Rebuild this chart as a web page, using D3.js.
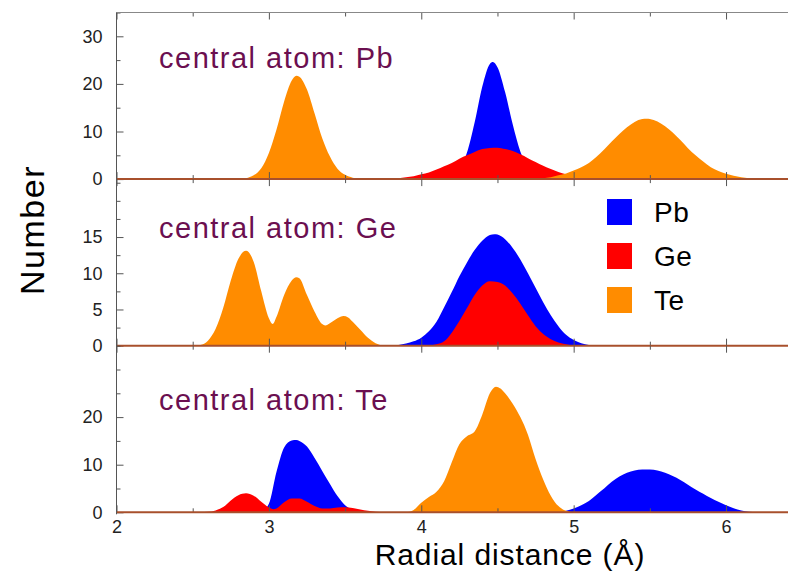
<!DOCTYPE html>
<html>
<head>
<meta charset="utf-8">
<script src="https://cdn.jsdelivr.net/npm/d3@7/dist/d3.min.js"></script>
<style>
    body { margin: 0; background: #fff; }
    svg { display: block; font-family: "Liberation Sans", Arial, sans-serif; }
    .axis .domain { display: none; }
    .axis line { stroke: #555; }
    .axis text { fill: #222; font-size: 18px; }
</style>
</head>
<body>
<script>
// Radial distribution of neighbours, [r (Å), number].
var pbCentralPb = [[4.10,0],[4.15,0.1],[4.20,0.6],[4.25,2.0],[4.30,5.6],[4.35,11.9],[4.40,19.4],[4.45,24.2],[4.47,24.6],[4.50,23.5],[4.55,18.3],[4.60,11.5],[4.65,5.8],[4.70,2.4],[4.75,0.8],[4.80,0.2],[4.85,0]];
var pbCentralGe = [[3.80,0],[3.85,0.2],[3.90,0.4],[3.95,0.6],[4.00,1.0],[4.05,1.4],[4.10,2.0],[4.15,2.7],[4.20,3.4],[4.25,4.3],[4.30,5.0],[4.35,5.7],[4.40,6.3],[4.45,6.55],[4.50,6.6],[4.55,6.3],[4.60,5.9],[4.65,5.2],[4.70,4.4],[4.75,3.6],[4.80,2.8],[4.85,2.1],[4.90,1.5],[4.95,1.0],[5.00,0.7],[5.05,0.4],[5.10,0.25],[5.15,0.1],[5.20,0]];
var pbCentralTe = [[2.80,0],[2.85,0.2],[2.90,0.8],[2.95,2.3],[3.00,5.5],[3.05,10.4],[3.10,16.3],[3.15,20.7],[3.18,21.7],[3.20,21.5],[3.25,18.8],[3.30,13.8],[3.35,8.6],[3.40,4.8],[3.45,2.2],[3.50,0.9],[3.55,0.3],[3.60,0.05],[3.65,0],
    [4.75,0],[4.80,0.2],[4.85,0.4],[4.90,0.8],[4.95,1.2],[5.00,1.8],[5.05,2.5],[5.10,3.4],[5.15,4.7],[5.20,6.2],[5.25,7.9],[5.30,9.5],[5.35,10.9],[5.40,12.0],[5.45,12.6],[5.48,12.7],[5.50,12.65],[5.55,12.1],[5.60,11.1],[5.65,9.8],[5.70,8.2],[5.75,6.5],[5.80,5.0],[5.85,3.7],[5.90,2.5],[5.95,1.7],[6.00,1.1],[6.05,0.7],[6.10,0.4],[6.15,0.2],[6.20,0.1],[6.25,0.05],[6.30,0]];

var geCentralPb = [[3.80,0],[3.85,0.1],[3.90,0.3],[3.95,0.6],[4.00,1.1],[4.05,2.0],[4.10,3.3],[4.15,5.3],[4.20,7.4],[4.25,9.6],[4.30,11.5],[4.35,13.2],[4.40,14.5],[4.45,15.3],[4.48,15.4],[4.50,15.35],[4.55,14.7],[4.60,13.5],[4.65,11.9],[4.70,10.0],[4.75,8.0],[4.80,6.0],[4.85,4.2],[4.90,2.7],[4.95,1.5],[5.00,0.8],[5.05,0.35],[5.10,0.1],[5.15,0]];
var geCentralGe = [[4.05,0],[4.10,0.2],[4.15,0.6],[4.20,1.8],[4.25,3.4],[4.30,5.2],[4.35,7.0],[4.40,8.3],[4.45,8.9],[4.50,8.8],[4.55,8.3],[4.60,7.2],[4.65,5.8],[4.70,4.2],[4.75,2.7],[4.80,1.6],[4.85,0.9],[4.90,0.45],[4.95,0.2],[5.00,0.05],[5.05,0]];
var geCentralTe = [[2.50,0],[2.55,0.1],[2.60,0.7],[2.65,2.3],[2.70,5.2],[2.75,9.0],[2.80,12.0],[2.85,13.1],[2.90,11.6],[2.95,7.5],[3.00,3.8],[3.025,3.0],[3.05,4.0],[3.10,7.0],[3.15,9.0],[3.18,9.45],[3.20,9.3],[3.25,7.0],[3.30,4.7],[3.35,3.0],[3.37,2.8],[3.40,3.1],[3.45,3.8],[3.49,4.1],[3.52,3.9],[3.55,3.3],[3.60,2.2],[3.65,1.1],[3.70,0.35],[3.75,0.05],[3.80,0]];

var teCentralPb = [[2.90,0],[2.95,0.2],[3.00,1.8],[3.05,8.5],[3.10,13.6],[3.15,15.1],[3.18,15.2],[3.20,15.0],[3.25,13.8],[3.30,11.4],[3.35,8.7],[3.40,6.0],[3.45,3.4],[3.50,1.5],[3.55,0.5],[3.60,0.1],[3.65,0],
    [4.90,0],[4.95,0.3],[5.00,0.8],[5.05,1.5],[5.10,2.4],[5.15,3.7],[5.20,5.0],[5.25,6.4],[5.30,7.5],[5.35,8.3],[5.40,8.8],[5.45,9.0],[5.50,9.0],[5.55,8.8],[5.60,8.3],[5.65,7.6],[5.70,6.8],[5.75,5.8],[5.80,4.8],[5.85,3.9],[5.90,3.0],[5.95,2.2],[6.00,1.5],[6.05,0.85],[6.10,0.4],[6.15,0.12],[6.20,0]];
var teCentralGe = [[2.55,0],[2.60,0.1],[2.65,0.4],[2.70,1.1],[2.75,2.5],[2.80,3.6],[2.85,4.0],[2.90,3.5],[2.95,2.2],[3.00,1.0],[3.03,0.65],[3.05,0.8],[3.10,2.1],[3.15,2.9],[3.20,2.9],[3.25,2.2],[3.30,1.3],[3.35,0.8],[3.40,0.8],[3.45,1.0],[3.50,1.05],[3.55,0.9],[3.60,0.6],[3.65,0.3],[3.70,0.1],[3.75,0]];
var teCentralTe = [[3.90,0],[3.95,0.5],[4.00,2.0],[4.05,3.2],[4.10,4.3],[4.15,6.5],[4.20,10.5],[4.25,14.3],[4.30,16.0],[4.35,17.0],[4.40,20.5],[4.45,25.0],[4.49,26.4],[4.52,26.0],[4.55,25.0],[4.60,22.8],[4.65,20.0],[4.70,16.3],[4.75,11.2],[4.80,6.9],[4.85,3.5],[4.90,1.3],[4.95,0.3],[5.00,0]];

var species = ['Pb', 'Ge', 'Te'];
var speciesColors = ['#0000ff', '#ff0000', '#ff8c00'];
var xTicks = [2, 3, 4, 5, 6];

var panels = [
    { label: 'central atom: Pb', series: [pbCentralPb, pbCentralGe, pbCentralTe], yMax: 35, major: [0, 10, 20, 30], minorStep: 5, labelY: 68 },
    { label: 'central atom: Ge', series: [geCentralPb, geCentralGe, geCentralTe], yMax: 23, major: [0, 5, 10, 15], minorStep: 2.5, labelY: 238 },
    { label: 'central atom: Te', series: [teCentralPb, teCentralGe, teCentralTe], yMax: 35, major: [0, 10, 20], minorStep: 5, labelY: 410 }
];

var width = 788, height = 572,
    left = 116.5, right = 787,
    plotTop = 12.5, panelHeight = 166.6;

var svg = d3.select('body').append('svg')
    .attr('width', width)
    .attr('height', height);

var x = d3.scaleLinear().domain([2, 6.4]).range([left, right]);
var xMinor = d3.range(2, 6.41, 0.5).filter(v => v % 1 !== 0);

var area = d3.area().curve(d3.curveMonotoneX);

panels.forEach(function (panel, idx) {
    var top = plotTop + idx * panelHeight,
        bottom = top + panelHeight;

    var y = d3.scaleLinear().domain([0, panel.yMax]).range([bottom, top]);

    area.x(d => x(d[0])).y0(y(0)).y1(d => y(d[1]));

    var g = svg.append('g').attr('class', 'panel');

    panel.series.forEach(function (s, i) {
        g.append('path')
            .attr('d', area(s))
            .attr('fill', speciesColors[i]);
    });

    // y ticks (inward), labels only on the major ones
    var minor = d3.range(0, panel.yMax + 0.01, panel.minorStep).filter(v => panel.major.indexOf(v) < 0);
    g.append('g').attr('class', 'axis')
        .attr('transform', 'translate(' + left + ',0)')
        .call(d3.axisLeft(y).tickValues(panel.major).tickSize(-7).tickPadding(14).tickFormat(d3.format('d')));
    g.append('g').attr('class', 'axis')
        .attr('transform', 'translate(' + left + ',0)')
        .call(d3.axisLeft(y).tickValues(minor).tickSize(-4).tickFormat(''));

    // x ticks at the top edge of the panel
    g.append('g').attr('class', 'axis')
        .attr('transform', 'translate(0,' + top + ')')
        .call(d3.axisTop(x).tickValues(xTicks).tickSize(-7).tickFormat(''));
    g.append('g').attr('class', 'axis')
        .attr('transform', 'translate(0,' + top + ')')
        .call(d3.axisTop(x).tickValues(xMinor).tickSize(-4).tickFormat(''));

    // x ticks at the bottom edge
    var bottomAxis = d3.axisBottom(x).tickValues(xTicks).tickSize(-7).tickPadding(8)
        .tickFormat(idx < panels.length - 1 ? '' : d3.format('d'));
    g.append('g').attr('class', 'axis')
        .attr('transform', 'translate(0,' + bottom + ')')
        .call(bottomAxis);
    g.append('g').attr('class', 'axis')
        .attr('transform', 'translate(0,' + bottom + ')')
        .call(d3.axisBottom(x).tickValues(xMinor).tickSize(-4).tickFormat(''));

    // zero line
    g.append('line')
        .attr('x1', left).attr('x2', width)
        .attr('y1', y(0)).attr('y2', y(0))
        .attr('stroke', '#a8502c')
        .attr('stroke-width', 2);

    g.append('text')
        .attr('x', 159)
        .attr('y', panel.labelY)
        .attr('fill', '#6b0f50')
        .style('font-size', '29px')
        .style('letter-spacing', '1.5px')
        .text(panel.label);
});

// frame: top edge and left axis
svg.append('line')
    .attr('x1', left).attr('x2', width)
    .attr('y1', plotTop).attr('y2', plotTop)
    .attr('stroke', '#888');
svg.append('line')
    .attr('x1', left).attr('x2', left)
    .attr('y1', plotTop).attr('y2', plotTop + 3 * panelHeight + 2)
    .attr('stroke', '#555');

// legend
var legend = svg.append('g')
    .selectAll('g')
    .data(species)
    .join('g')
    .attr('transform', (d, i) => 'translate(607,' + (199 + i * 44) + ')');
legend.append('rect')
    .attr('width', 25)
    .attr('height', 26)
    .attr('fill', (d, i) => speciesColors[i]);
legend.append('text')
    .attr('x', 47)
    .attr('y', 23)
    .style('font-size', '28px')
    .style('letter-spacing', '0.5px')
    .attr('fill', '#000')
    .text(d => d);

// axis titles
svg.append('text')
    .attr('transform', 'translate(32,230) rotate(-90)')
    .attr('text-anchor', 'middle')
    .attr('dominant-baseline', 'central')
    .style('font-size', '34px')
    .style('letter-spacing', '1.5px')
    .text('Number');
svg.append('text')
    .attr('x', 510)
    .attr('y', 565)
    .attr('text-anchor', 'middle')
    .style('font-size', '30px')
    .style('letter-spacing', '0.9px')
    .text('Radial distance (Å)');
</script>
</body>
</html>
